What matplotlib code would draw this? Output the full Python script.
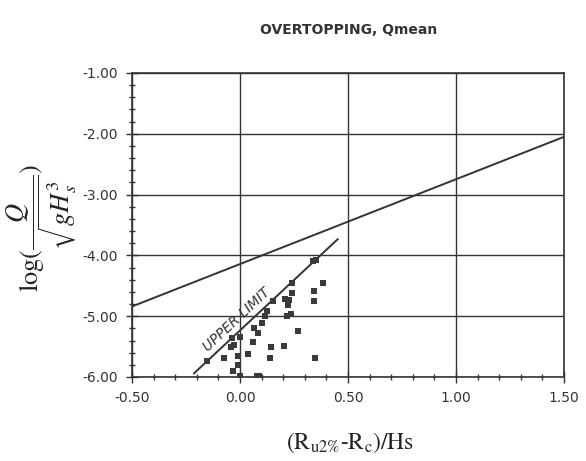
import matplotlib
matplotlib.use("Agg")
import matplotlib.pyplot as plt
from matplotlib.ticker import MultipleLocator, FormatStrFormatter

plt.rcParams['mathtext.fontset'] = 'stix'

# Data
x_points = [0.337, 0.350, 0.383, 0.341, 0.344, 0.347,
            0.243, 0.239, 0.208, 0.227, 0.220, 0.219, 0.238, 0.267, 0.206,
            0.155, 0.124, 0.118, 0.103, 0.066, 0.085, 0.059, 0.144, 0.137,
            0.035, -0.002, -0.038, -0.028, -0.042, -0.074, -0.008, -0.008,
            -0.034, 0.000, 0.078, 0.090, -0.154]
y_points = [-4.10, -4.07, -4.45, -4.58, -4.75, -5.68,
            -4.46, -4.62, -4.71, -4.73, -4.82, -5.00, -4.96, -5.25, -5.49,
            -4.745, -4.92, -4.99, -5.12, -5.19, -5.28, -5.43, -5.51, -5.68,
            -5.62, -5.35, -5.36, -5.48, -5.51, -5.68, -5.65, -5.80,
            -5.90, -5.98, -5.99, -5.99, -5.73]

fit_x = [-0.50, 1.50]
fit_y = [-4.84, -2.05]

upper_x = [-0.213, 0.452]
upper_y = [-5.94, -3.735]

x_ticks = [-0.5, 0.0, 0.5, 1.0, 1.5]
y_ticks = [-6, -5, -4, -3, -2, -1]

fig = plt.figure(figsize=(5.86, 4.61), dpi=100)
ax = fig.add_axes([132/586, 1-377/461, 432/586, 304/461])

ax.plot(fit_x, fit_y, color='#333333', lw=1.4, zorder=3)
ax.plot(upper_x, upper_y, color='#333333', lw=1.4, zorder=3)
ax.scatter(x_points, y_points, marker='s', s=18, color='#3a3a3a', linewidths=0, zorder=4)

ax.text(-0.015, -5.06, 'UPPER LIMIT', rotation=43, rotation_mode='anchor',
        ha='center', va='center', fontsize=10, style='italic',
        color='#333333', family='DejaVu Sans')

ax.set_xlim(-0.5, 1.5)
ax.set_ylim(-6, -1)
ax.set_xticks(x_ticks)
ax.set_yticks(y_ticks)
ax.xaxis.set_minor_locator(MultipleLocator(0.1))
ax.yaxis.set_minor_locator(MultipleLocator(0.2))
ax.xaxis.set_major_formatter(FormatStrFormatter('%.2f'))
ax.yaxis.set_major_formatter(FormatStrFormatter('%.2f'))
ax.grid(True, which='major', color='#333333', lw=1.0)
ax.set_axisbelow(True)

ax.tick_params(which='both', direction='inout', colors='#333333', labelsize=10,
               top=False, right=False)
ax.tick_params(which='major', length=8, width=1.0, pad=6)
ax.tick_params(which='minor', length=5, width=1.0)
for lab in ax.get_xticklabels() + ax.get_yticklabels():
    lab.set_color('#333333')
for sp in ax.spines.values():
    sp.set_color('#333333')
    sp.set_linewidth(1.2)

fig.text(349/586, 1-30/461, 'OVERTOPPING, Qmean', ha='center', va='center',
         fontsize=10, fontweight='bold', color='#333333')

fig.text(350/586, 1-443/461, r'(R$_{\mathrm{u2\%}}$-R$_{\mathrm{c}}$)/Hs', ha='center', va='center',
         fontsize=17, family='STIXGeneral', color='#222222')

fig.text(42/586, 1-228/461, r'$\log(\dfrac{Q}{\sqrt{gH_s^3}})$', ha='center', va='center',
         rotation=90, fontsize=19, color='#222222')

fig.savefig('out.png', dpi=100, facecolor='white')
